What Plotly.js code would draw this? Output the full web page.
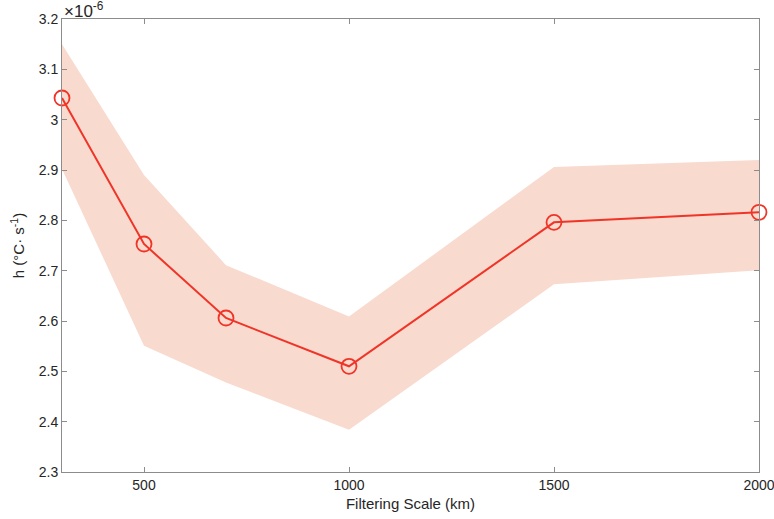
<!DOCTYPE html>
<html><head><meta charset="utf-8">
<script src="https://cdn.plot.ly/plotly-3.0.1.min.js"></script>
<style>body{margin:0;padding:0;background:#fff;overflow:hidden}#chart{width:774px;height:519px}</style>
</head><body><div id="chart"></div>
<script>
const scales = [300, 500, 700, 1000, 1500, 2000];
const hMean = [3.043, 2.753, 2.606, 2.510, 2.796, 2.816];
const hUpper = [3.150, 2.890, 2.711, 2.609, 2.906, 2.920];
const hLower = [2.902, 2.551, 2.478, 2.384, 2.673, 2.701];
const xTicks = [500, 1000, 1500, 2000];
const yTicks = [2.3, 2.4, 2.5, 2.6, 2.7, 2.8, 2.9, 3, 3.1, 3.2];

const band = {
  x: scales.concat(scales.slice().reverse()),
  y: hUpper.concat(hLower.slice().reverse()),
  type: 'scatter', mode: 'lines', fill: 'toself',
  fillcolor: 'rgb(248,218,206)', line: {width: 0}, hoverinfo: 'skip', showlegend: false
};
const line = {
  x: scales, y: hMean, type: 'scatter', mode: 'lines+markers',
  line: {color: 'rgb(240,52,40)', width: 2},
  marker: {symbol: 'circle-open', size: 15, color: 'rgb(240,52,40)', line: {width: 1.8, color: 'rgb(240,52,40)'}},
  showlegend: false, cliponaxis: false
};
const F = 'Liberation Sans, Arial, sans-serif';
const axisCommon = {
  showgrid: false, zeroline: false, showline: true, linecolor: '#8c8c8c', linewidth: 1,
  mirror: 'ticks', ticks: 'inside', ticklen: 5, tickcolor: '#8c8c8c',
  ticklabeloverflow: 'allow',
  tickfont: {family: F, size: 14, color: '#262626'}
};
const layout = {
  width: 774, height: 519,
  margin: {l: 62, r: 15, t: 19, b: 47},
  paper_bgcolor: '#fff', plot_bgcolor: '#fff',
  xaxis: Object.assign({}, axisCommon, {
    range: [300, 2000], tickvals: xTicks, ticktext: xTicks.map(String),
    title: {text: 'Filtering Scale (km)', standoff: 6, font: {family: F, size: 15, color: '#262626'}}
  }),
  yaxis: Object.assign({}, axisCommon, {
    range: [2.3, 3.2], tickvals: yTicks, ticktext: yTicks.map(v => String(v)),
    title: {text: 'h (°C· s<sup>-1</sup>)', standoff: 10, font: {family: F, size: 15, color: '#262626'}}
  }),
  annotations: [{
    xref: 'paper', yref: 'paper', x: 0, y: 1, xanchor: 'left', yanchor: 'bottom',
    text: '×10<sup>-6</sup>', showarrow: false, xshift: 0, yshift: -4,
    font: {family: F, size: 17, color: '#262626'}
  }]
};
Plotly.newPlot('chart', [band, line], layout, {displayModeBar: false, staticPlot: true});
</script></body></html>
